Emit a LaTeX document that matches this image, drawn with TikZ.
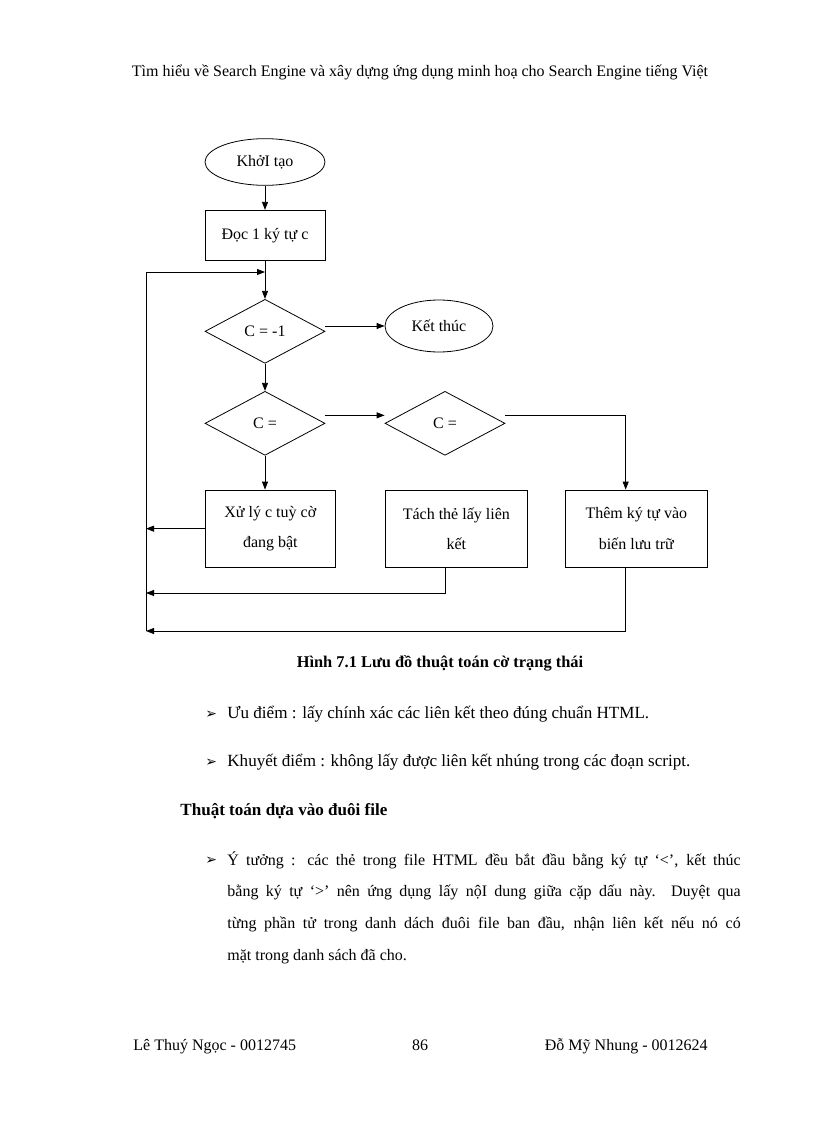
\documentclass[tikz,border=0pt]{standalone}
\usepackage{fontspec}
\setmainfont{Liberation Serif}
\newfontfamily\dingfont{DejaVu Sans}
\usetikzlibrary{shapes, arrows, arrows.meta}
\usetikzlibrary{positioning}
\tikzstyle{term} = [ellipse, minimum width = 90, minimum height = 35, draw =
  black, text centered]
\tikzstyle{box} = [rectangle, minimum width = 90, minimum height = 37.5, draw =
  black, text centered]
\tikzstyle{test} = [
  diamond, inner sep = 0,
  minimum width = 90, minimum height = 48,
  draw = black, text centered
]
\tikzstyle{job} = [
  rectangle, minimum height = 58,
  draw = black, align = center,
  font = \fontsize{12}{23}\selectfont
]
\tikzstyle{txt} = [anchor = base west, inner sep = 0]
\tikzstyle{bullet} = [anchor = base west, inner sep = 0,
  font = \dingfont\fontsize{10.5}{10.5}\selectfont]

\begin{document}
\begin{tikzpicture}[x = 0.75pt, y = -0.75pt, node distance = 0,
    line width = 0.6pt, font = \fontsize{12}{14}\selectfont,
    >={Triangle[length = 6pt, width = 4.5pt]}]
    \useasboundingbox (0, 0) rectangle (816, 1123);

    \node [anchor = base, inner sep = 0] at (420, 77) (head) {Tìm hiểu về Search Engine  và xây dựng ứng dụng minh  hoạ cho Search Engine  tiếng  Việt};

    % flow chart
    \node [term] at (265, 162) (start) {KhởI tạo};
    \node [box, below of = start, yshift = -55] (read) {Đọc 1 ký tự c};
    \node [test, below of = read, yshift = -72] (dia-1) {C = -1};
    \node [term, minimum width = 81, minimum height = 39, below of = dia-1, xshift = 130.5, yshift = 4] (stop) {Kết thúc};
    \node [test, below of = dia-1, yshift = -69] (dia-2) {C =};
    \node [test, below of = dia-2, xshift = 135] (dia-3) {C =};
    \node [job, minimum width = 98, below of = dia-2, yshift = -79, xshift = 4] (act-1) {Xử lý c tuỳ cờ\\đang bật};
    \node [job, minimum width = 107, below of = act-1, xshift = 139.5] (act-2) {Tách thẻ lấy liên\\kết};
    \node [job, minimum width = 107, below of = act-2, xshift = 135] (act-3) {Thêm ký tự vào\\biến lưu trữ};
    \coordinate (loop-top) at (146, 272);
    \coordinate (back-2) at (146, 593);
    \coordinate (loop-bottom) at (146, 631);

    \draw [->] (start) -- (read);
    \draw [->] (read) -- (dia-1);
    \draw [->] (loop-bottom) -- (loop-top) -- (loop-top -| read);
    \draw [->] (dia-1.east |- stop) -- (stop);
    \draw [->] (dia-1) -- (dia-2);
    \draw [->] ([yshift = 6]dia-2.east) -- ([yshift = 6]dia-3.west);
    \draw [->] ([yshift = 6]dia-3.east) -| ([xshift = -8]act-3.north);
    \draw [->] (dia-2) -- (dia-2 |- act-1.north);
    \draw [->] (act-1.west) -- (act-1.west -| loop-top);
    \draw [->] ([xshift = -8]act-2.south) |- (back-2);
    \draw [->] ([xshift = -8]act-3.south) |- (loop-bottom);

    % text below
    \node [anchor = base, inner sep = 0, font = \bfseries\fontsize{12.3}{14}\selectfont] at (440, 667) (caption) {Hình 7.1 Lưu đồ thuật toán cờ trạng thái};
    \node [bullet] at (205, 718) (bullet-1) {➢};
    \node [txt, font = \fontsize{12.8}{14}\selectfont] at (227, 718) (pro) {Ưu điểm : lấy chính xác các liên kết theo đúng chuẩn HTML.};
    \node [bullet] at (205, 766) (bullet-2) {➢};
    \node [txt, font = \fontsize{12.8}{14}\selectfont] at (227, 766) (con) {Khuyết điểm : không lấy được liên kết nhúng trong các đoạn script.};
    \node [txt, font = \bfseries\fontsize{12.8}{14}\selectfont] at (180, 815) (sub) {Thuật toán dựa vào đuôi file};
    \node [bullet] at (205, 864) (bullet-3) {➢};
    \node [inner sep = 0, anchor = north west, text width = 385, align = justify,
      font = \fontsize{12}{23.8}\selectfont] at (227, 851) (idea) {Ý tưởng : các thẻ trong file HTML đều bắt đầu bằng ký tự ‘<’, kết thúc\linebreak bằng ký tự ‘>’ nên ứng dụng lấy nộI dung giữa cặp dấu này. Duyệt qua\linebreak từng phần tử trong danh dách đuôi file ban đầu, nhận liên kết nếu nó có\linebreak mặt trong danh sách đã cho.};

    % footer
    \node [txt] at (133, 1050) (left-name) {Lê Thuý Ngọc - 0012745};
    \node [anchor = base, inner sep = 0] at (420, 1050) (page) {86};
    \node [anchor = base east, inner sep = 0] at (708, 1050) (right-name) {Đỗ Mỹ Nhung - 0012624};
\end{tikzpicture}
\end{document}
